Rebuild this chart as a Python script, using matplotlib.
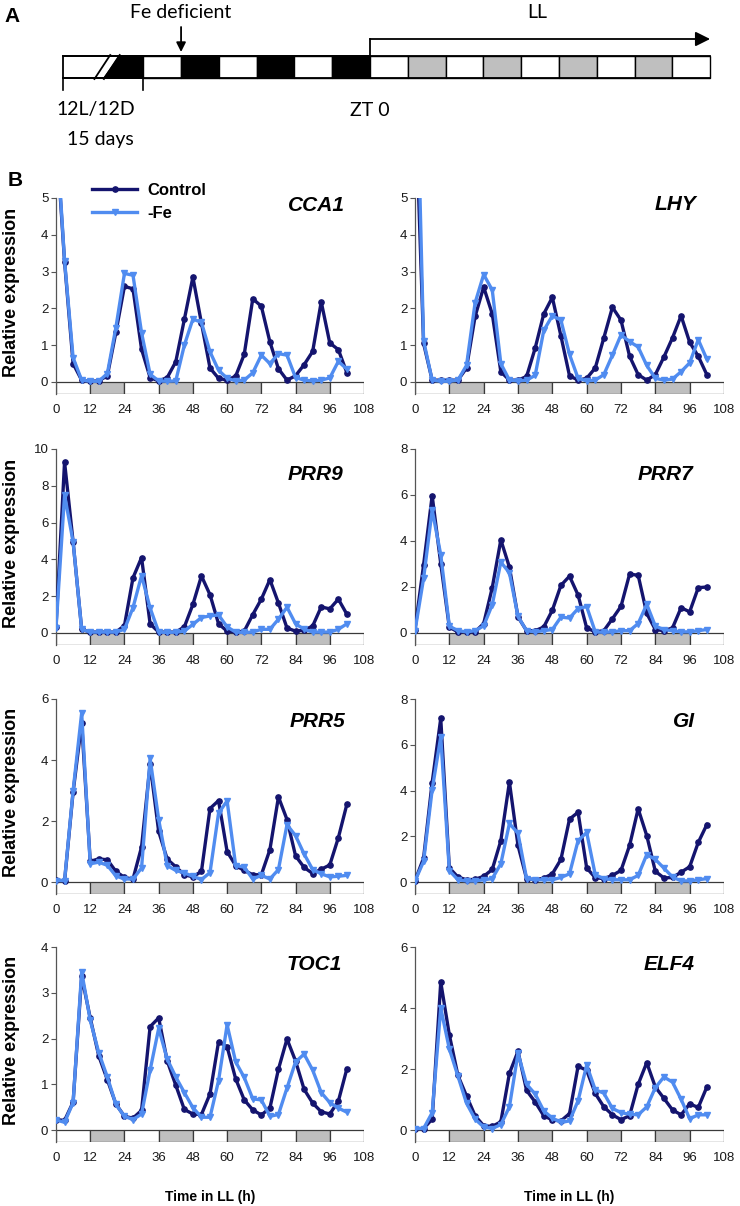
import numpy as np
import matplotlib
matplotlib.use('Agg')
import matplotlib.pyplot as plt
from matplotlib.patches import Rectangle, Polygon

plt.rcParams['font.family'] = ['Liberation Sans', 'DejaVu Sans']

# sampling times in LL (h)
hours = [0, 3, 6, 9, 12, 15, 18, 21, 24, 27, 30, 33, 36, 39, 42, 45, 48, 51,
         54, 57, 60, 63, 66, 69, 72, 75, 78, 81, 84, 87, 90, 93, 96, 99, 102]

cca1_ctrl = [6.8, 3.27, 0.5, 0.05, 0.02, 0.03, 0.17, 1.35, 2.6, 2.53, 0.89, 0.12,
             0.03, 0.12, 0.55, 1.7, 2.85, 1.6, 0.38, 0.1, 0.05, 0.16, 0.75, 2.26,
             2.06, 1.09, 0.36, 0.05, 0.17, 0.47, 0.83, 2.18, 1.06, 0.88, 0.25]
cca1_fe = [7.0, 3.3, 0.66, 0.05, 0.02, 0.02, 0.23, 1.48, 2.95, 2.9, 1.34, 0.21,
           0.03, 0.02, 0.03, 1.0, 1.71, 1.62, 0.82, 0.32, 0.1, 0.03, 0.05, 0.25,
           0.73, 0.5, 0.77, 0.73, 0.12, 0.05, 0.03, 0.05, 0.11, 0.56, 0.35]

lhy_ctrl = [8.0, 1.05, 0.05, 0.05, 0.05, 0.05, 0.38, 1.78, 2.58, 1.85, 0.28, 0.05,
            0.05, 0.15, 0.92, 1.85, 2.3, 1.25, 0.17, 0.05, 0.1, 0.38, 1.2, 2.03,
            1.68, 0.7, 0.2, 0.05, 0.2, 0.68, 1.2, 1.8, 1.08, 0.7, 0.2]
lhy_fe = [10.5, 1.12, 0.05, 0.02, 0.02, 0.05, 0.45, 2.15, 2.92, 2.5, 0.5, 0.05,
          0.03, 0.05, 0.18, 1.4, 1.8, 1.68, 0.75, 0.1, 0.03, 0.05, 0.2, 0.73,
          1.28, 1.1, 0.95, 0.45, 0.1, 0.05, 0.08, 0.28, 0.52, 1.15, 0.62]

prr9_ctrl = [0.33, 9.3, 4.95, 0.2, 0.05, 0.05, 0.05, 0.05, 0.4, 3.0, 4.1, 0.5,
             0.05, 0.05, 0.05, 0.33, 1.55, 3.1, 2.08, 0.5, 0.1, 0.05, 0.1, 1.0,
             1.84, 2.9, 1.63, 0.27, 0.1, 0.15, 0.38, 1.42, 1.31, 1.84, 1.02]
prr9_fe = [0.25, 7.5, 4.95, 0.2, 0.05, 0.05, 0.05, 0.05, 0.2, 1.38, 3.12, 1.36,
           0.05, 0.03, 0.05, 0.1, 0.47, 0.84, 0.93, 0.98, 0.33, 0.05, 0.03, 0.05,
           0.2, 0.2, 0.75, 1.4, 0.5, 0.2, 0.05, 0.05, 0.05, 0.2, 0.5]

prr7_ctrl = [0.15, 2.96, 5.97, 3.02, 0.25, 0.05, 0.05, 0.05, 0.41, 1.97, 4.05, 2.86,
             0.7, 0.1, 0.1, 0.26, 0.99, 2.07, 2.47, 1.65, 0.22, 0.05, 0.1, 0.62,
             1.16, 2.56, 2.51, 0.85, 0.15, 0.1, 0.22, 1.1, 0.92, 1.97, 2.0]
prr7_fe = [0.1, 2.37, 5.35, 3.4, 0.3, 0.1, 0.05, 0.1, 0.31, 1.23, 3.08, 2.62,
           0.72, 0.1, 0.05, 0.1, 0.15, 0.69, 0.65, 1.06, 1.15, 0.05, 0.03, 0.05,
           0.1, 0.1, 0.41, 1.25, 0.3, 0.15, 0.1, 0.05, 0.05, 0.1, 0.15]

prr5_ctrl = [0.08, 0.03, 2.95, 5.22, 0.68, 0.76, 0.73, 0.35, 0.15, 0.1, 1.15, 3.86,
             1.66, 0.75, 0.5, 0.24, 0.17, 0.35, 2.41, 2.67, 1.0, 0.54, 0.38, 0.24,
             0.24, 1.06, 2.79, 2.05, 0.86, 0.48, 0.28, 0.42, 0.56, 1.45, 2.55]
prr5_fe = [0.05, 0.05, 3.0, 5.54, 0.6, 0.65, 0.55, 0.2, 0.1, 0.1, 0.46, 4.05,
           2.05, 0.54, 0.38, 0.3, 0.19, 0.08, 0.31, 2.26, 2.66, 0.54, 0.49, 0.1,
           0.22, 0.1, 0.41, 1.88, 1.52, 0.92, 0.41, 0.27, 0.17, 0.19, 0.22]

gi_ctrl = [0.05, 1.05, 4.35, 7.15, 0.62, 0.22, 0.1, 0.12, 0.25, 0.55, 1.81, 4.37,
           1.6, 0.15, 0.1, 0.17, 0.36, 0.99, 2.75, 3.05, 0.62, 0.19, 0.15, 0.29,
           0.51, 1.6, 3.2, 2.03, 0.47, 0.18, 0.2, 0.43, 0.67, 1.73, 2.51]
gi_fe = [0.05, 0.9, 4.04, 6.35, 0.5, 0.1, 0.05, 0.05, 0.1, 0.15, 0.8, 2.56,
         2.13, 0.15, 0.1, 0.1, 0.1, 0.2, 0.36, 1.81, 2.17, 0.32, 0.15, 0.1,
         0.1, 0.1, 0.29, 1.2, 0.99, 0.61, 0.22, 0.05, 0.05, 0.1, 0.15]

toc1_ctrl = [0.23, 0.21, 0.61, 3.36, 2.45, 1.62, 1.1, 0.57, 0.3, 0.26, 0.43, 2.26,
             2.45, 1.51, 0.98, 0.45, 0.35, 0.34, 0.79, 1.93, 1.82, 1.12, 0.66, 0.44,
             0.33, 0.48, 1.33, 1.99, 1.51, 0.89, 0.59, 0.4, 0.35, 0.63, 1.34]
toc1_fe = [0.22, 0.17, 0.6, 3.46, 2.4, 1.69, 1.16, 0.56, 0.3, 0.23, 0.35, 1.31,
           2.22, 1.55, 1.16, 0.82, 0.49, 0.28, 0.28, 1.08, 2.3, 1.49, 1.15, 0.68,
           0.66, 0.3, 0.34, 0.92, 1.49, 1.66, 1.31, 0.82, 0.6, 0.48, 0.39]

elf4_ctrl = [0.05, 0.05, 0.36, 4.85, 3.12, 1.79, 1.12, 0.47, 0.14, 0.12, 0.27, 1.86,
             2.58, 1.3, 0.92, 0.47, 0.33, 0.3, 0.54, 2.09, 1.96, 1.2, 0.76, 0.5,
             0.34, 0.47, 1.5, 2.21, 1.41, 1.04, 0.66, 0.5, 0.86, 0.74, 1.41]
elf4_fe = [0.05, 0.05, 0.57, 4.0, 2.66, 1.77, 0.88, 0.36, 0.1, 0.05, 0.18, 0.76,
           2.52, 1.5, 1.18, 0.63, 0.39, 0.25, 0.3, 0.96, 2.13, 1.32, 1.21, 0.71,
           0.57, 0.52, 0.5, 0.76, 1.39, 1.74, 1.57, 1.01, 0.37, 0.5, 0.5]

genes = ['CCA1', 'LHY', 'PRR9', 'PRR7', 'PRR5', 'GI', 'TOC1', 'ELF4']
ctrl_series = [cca1_ctrl, lhy_ctrl, prr9_ctrl, prr7_ctrl, prr5_ctrl, gi_ctrl, toc1_ctrl, elf4_ctrl]
fe_series = [cca1_fe, lhy_fe, prr9_fe, prr7_fe, prr5_fe, gi_fe, toc1_fe, elf4_fe]
y_max = [5, 5, 10, 8, 6, 8, 4, 6]
y_step = [1, 1, 2, 2, 2, 2, 1, 2]
x_ticks = [0, 12, 24, 36, 48, 60, 72, 84, 96, 108]

# LL light schedule: 12 h blocks, subjective day (white) / subjective night (grey)
ll_blocks = ['white', 'grey', 'white', 'grey', 'white', 'grey', 'white', 'grey', 'white']
# 12L/12D entrainment blocks before ZT 0 (start hour, colour)
entrain_starts = [-72, -60, -48, -36, -24, -12]
entrain_colors = ['white', 'black', 'white', 'black', 'white', 'black']

c_ctrl = '#14146e'
c_fe = '#508cf0'
box_grey = '#bfbfbf'

W, H = 740, 1206
fig = plt.figure(figsize=(W / 100, H / 100), dpi=100)

# ---------------- panel A ----------------
axa = fig.add_axes([0, 1 - 150 / H, 1, 150 / H])
axa.set_xlim(-117.5, 117.5)
axa.set_ylim(150, 0)
axa.axis('off')

bar_top, bar_bot = 56, 78
bar_start = -97.5
slash1 = (-87.5, -82.5)
slash2 = (-84.5, -79.5)

axa.add_patch(Rectangle((bar_start, bar_top), 0 - bar_start, bar_bot - bar_top,
                        fc='white', ec='black', lw=1.3))
axa.add_patch(Polygon([(slash2[0], bar_bot), (slash2[1], bar_top), (-72, bar_top), (-72, bar_bot)],
                      closed=True, fc='black', ec='black', lw=1.0))
for s in (slash1, slash2):
    axa.plot([s[0], s[1]], [bar_bot + 1, bar_top - 1], color='black', lw=1.3)
for s, c in zip(entrain_starts, entrain_colors):
    axa.add_patch(Rectangle((s, bar_top), 12, bar_bot - bar_top, fc=c, ec='black', lw=1.0))
for k, c in enumerate(ll_blocks):
    axa.add_patch(Rectangle((12 * k, bar_top), 12, bar_bot - bar_top,
                            fc=box_grey if c == 'grey' else 'white', ec='black', lw=1.0))
axa.plot([bar_start, 108], [bar_bot, bar_bot], color='black', lw=1.3)
axa.plot([bar_start, 108], [bar_top, bar_top], color='black', lw=1.3)

# bracket for 15 days
axa.plot([bar_start, bar_start], [bar_bot, 90], color='black', lw=1.2)
axa.plot([-72, -72], [bar_bot, 90], color='black', lw=1.2)

# arrows
axa.annotate('', xy=(-60, 52), xytext=(-60, 27),
             arrowprops=dict(arrowstyle='-|>', color='black', lw=1.3,
                             mutation_scale=14, shrinkA=0, shrinkB=0))
axa.plot([0, 0], [bar_top, 39], color='black', lw=1.3)
axa.annotate('', xy=(108, 39), xytext=(0, 39),
             arrowprops=dict(arrowstyle='-|>', color='black', lw=1.3,
                             mutation_scale=22, shrinkA=0, shrinkB=0))

fa = dict(family=['Lato', 'DejaVu Sans'], fontsize=14, ha='center', va='center')
axa.text(-60, 13, 'Fe deficient', **fa)
axa.text(53, 13, 'LL', **fa)
axa.text(0, 110, 'ZT 0', **fa)
axa.text(-87, 110, '12L/12D', **fa)
axa.text(-85.5, 139, '15 days', **fa)

fig.text(12 / W, 1 - 16 / H, 'A', fontsize=15, fontweight='bold', ha='center', va='center')
fig.text(15 / W, 1 - 180 / H, 'B', fontsize=15, fontweight='bold', ha='center', va='center')

# ---------------- panel B ----------------
lefts = [56, 415]
widths = [308, 309]
bottoms = [394, 645, 894, 1142]
tops = [198, 449, 699, 947]
label_x = [0.938, 0.909, 0.932, 0.90, 0.938, 0.906, 0.928, 0.906]
label_y = [0.964, 0.968, 0.872, 0.872, 0.887, 0.886, 0.908, 0.908]

for i, gene in enumerate(genes):
    row, col = i // 2, i % 2
    ax = fig.add_axes([lefts[col] / W, 1 - bottoms[row] / H,
                       widths[col] / W, (bottoms[row] - tops[row]) / H])
    ymax = y_max[i]
    box_h = ymax * 12 / 184.0
    ax.set_xlim(0, 108)
    ax.set_ylim(-box_h, ymax)

    l1, = ax.plot(hours, ctrl_series[i], color=c_ctrl, lw=2.4, marker='o', ms=3.8,
                  label='Control', zorder=3)
    l2, = ax.plot(hours, fe_series[i], color=c_fe, lw=2.4, marker='v', ms=4.5,
                  label='-Fe', zorder=4)

    for k, c in enumerate(ll_blocks):
        ax.add_patch(Rectangle((12 * k, -box_h), 12, box_h,
                               fc=box_grey if c == 'grey' else 'white',
                               ec='#3a3a3a', lw=0.9, zorder=2))

    for sp in ['top', 'right', 'bottom']:
        ax.spines[sp].set_visible(False)
    ax.spines['left'].set_color('#555555')
    ax.spines['left'].set_linewidth(0.9)

    ax.set_yticks(np.arange(0, ymax + y_step[i] / 2.0, y_step[i]))
    ax.set_xticks(x_ticks)
    ax.tick_params(axis='x', length=0, pad=7, labelsize=9.5, labelcolor='#1a1a1a')
    ax.tick_params(axis='y', length=3.5, width=0.8, color='#555555', pad=2,
                   labelsize=9.5, labelcolor='#1a1a1a')

    ax.text(label_x[i], label_y[i], gene, transform=ax.transAxes, ha='right', va='center',
            fontsize=15, fontweight='bold', fontstyle='italic')

    if col == 0:
        ax.set_ylabel('Relative expression', fontsize=13, fontweight='bold')
        ax.yaxis.label.set_va('center')
        ax.yaxis.set_label_coords(-(56 - 12) / 308.0, 0.52)
    if row == 3:
        ax.set_xlabel('Time in LL (h)', fontsize=10, fontweight='bold')
        ax.xaxis.label.set_va('center')
        ax.xaxis.set_label_coords(0.5, -(1197 - 1142) / 195.0)
    if i == 0:
        ax.legend(handles=[l1, l2], loc='upper left', bbox_to_anchor=(0.117, 1.075),
                  frameon=False, prop=dict(size=12, weight='bold'), handlelength=2.7,
                  handletextpad=0.6, labelspacing=0.45, borderpad=0, borderaxespad=0)

plt.savefig('out.png', dpi=100)
plt.close()
